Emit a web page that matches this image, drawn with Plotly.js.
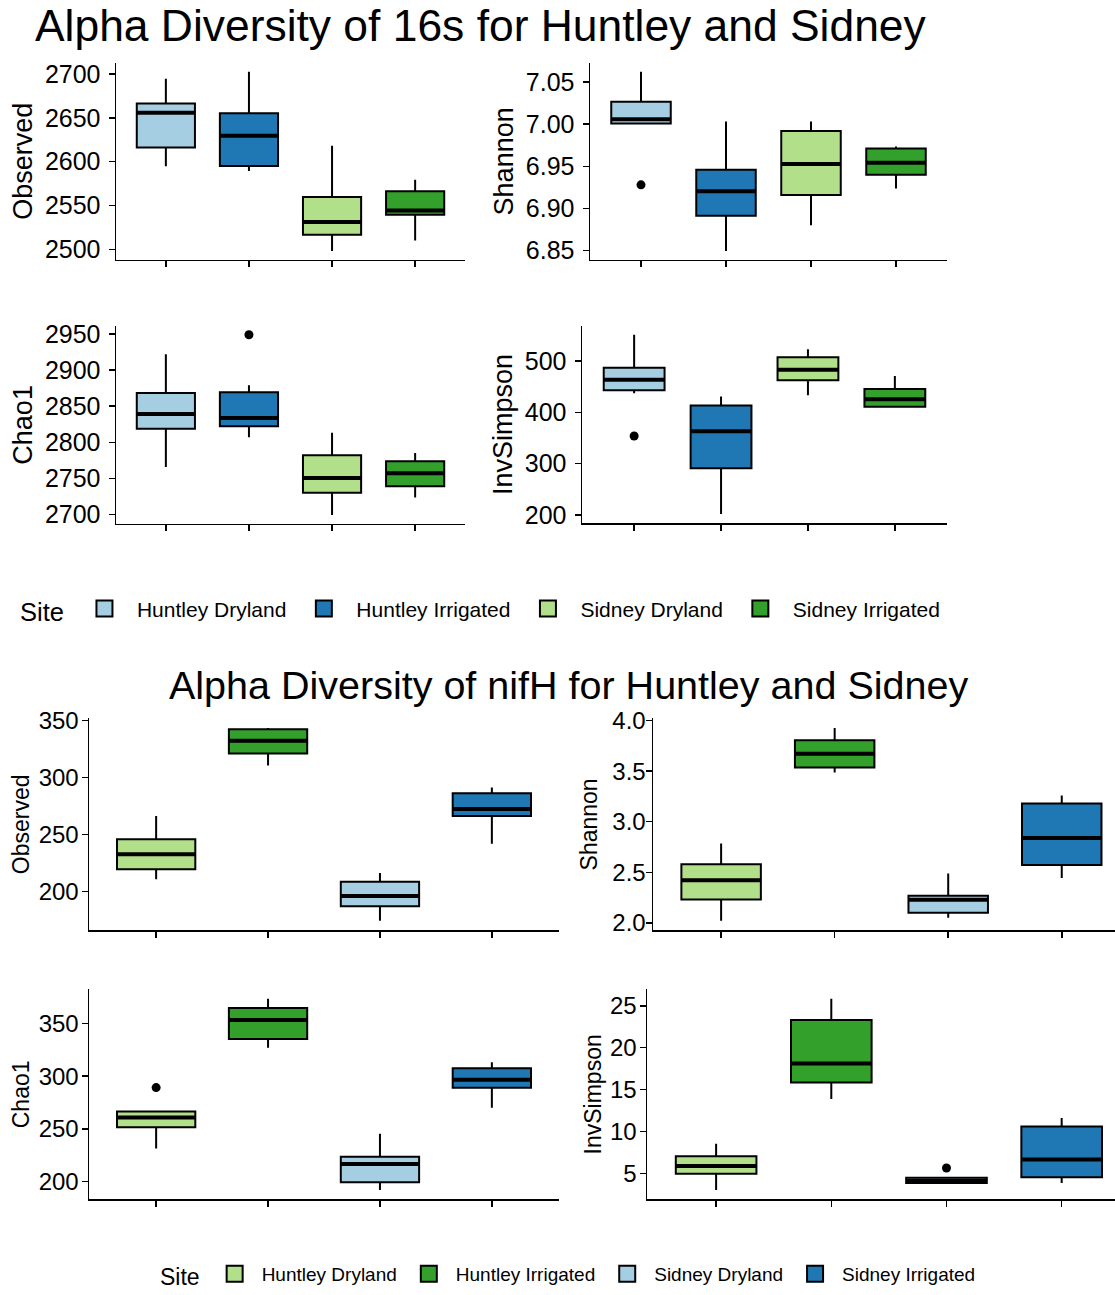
<!DOCTYPE html>
<html><head><meta charset="utf-8">
<script src="https://cdn.plot.ly/plotly-3.0.1.min.js"></script>
<style>html,body{margin:0;padding:0;background:#fff;width:1115px;height:1295px;overflow:hidden}#chart{width:1115px;height:1295px;overflow:hidden}</style>
</head><body><div id="chart"></div><script>
// ---------- data ----------
const sites = ['Huntley Dryland', 'Huntley Irrigated', 'Sidney Dryland', 'Sidney Irrigated'];
const colors16 = ['#A6CEE3', '#1F78B4', '#B2DF8A', '#33A02C'];
const colorsNif = ['#B2DF8A', '#33A02C', '#A6CEE3', '#1F78B4'];

// 16s
const obs16 = {lower: [2594.7, 2589.4, 2498.1, 2510.2], q1: [2616.3, 2595.1, 2516.7, 2539.4], median: [2655.7, 2629.5, 2531.1, 2544.3], q3: [2666.3, 2655.3, 2559.8, 2566.3], upper: [2694.7, 2702.7, 2618.2, 2579.5]};
const obs16Out = {site: [], value: []};
const sha16 = {lower: [7.0008, 6.8496, 6.880, 6.9236], q1: [7.0008, 6.8913, 6.9161, 6.940], median: [7.0059, 6.9205, 6.9528, 6.9543], q3: [7.0264, 6.946, 6.992, 6.971], upper: [7.0622, 7.0031, 7.003, 6.9736]};
const sha16Out = {site: ['Huntley Dryland'], value: [6.928]};
const chao16 = {lower: [2765.8, 2806.9, 2699.5, 2723.5], q1: [2818.8, 2822.0, 2730.4, 2739.2], median: [2839.0, 2833.5, 2750.7, 2757.1], q3: [2868.0, 2869.0, 2782.0, 2773.7], upper: [2921.5, 2878.7, 2813.3, 2785.2]};
const chao16Out = {site: ['Huntley Irrigated'], value: [2948.6]};
const inv16 = {lower: [437.4, 201.9, 433.5, 411.0], q1: [443.2, 291.0, 462.6, 411.0], median: [463.9, 363.2, 483.2, 425.8], q3: [487.1, 413.5, 507.7, 445.8], upper: [551.6, 431.0, 523.2, 471.0]};
const inv16Out = {site: ['Huntley Dryland'], value: [354.2]};

// nifH
const obsNif = {lower: [210.8, 310.6, 174.3, 242.0], q1: [219.6, 321.1, 187.2, 266.2], median: [232.7, 332.2, 196.2, 272.4], q3: [245.8, 342.4, 208.5, 286.1], upper: [266.2, 343.5, 216.3, 291.3]};
const obsNifOut = {site: [], value: []};
const shaNif = {lower: [2.02, 3.487, 2.05, 2.444], q1: [2.232, 3.536, 2.099, 2.573], median: [2.421, 3.672, 2.228, 2.838], q3: [2.58, 3.805, 2.268, 3.179], upper: [2.785, 3.927, 2.487, 3.258]};
const shaNifOut = {site: [], value: []};
const chaoNif = {lower: [231.5, 327.0, 192.2, 270.1], q1: [251.6, 335.2, 199.4, 289.0], median: [260.8, 353.2, 216.7, 296.5], q3: [266.5, 364.5, 223.6, 307.6], upper: [267.0, 373.3, 245.4, 313.2]};
const chaoNifOut = {site: ['Huntley Dryland'], value: [289.2]};
const invNif = {lower: [3.06, 13.89, 3.85, 3.9], q1: [5.0, 15.87, 3.9, 4.57], median: [5.91, 18.12, 4.15, 6.7], q3: [7.06, 23.3, 4.5, 10.61], upper: [8.56, 25.83, 4.55, 11.64]};
const invNifOut = {site: ['Sidney Dryland'], value: [5.67]};

// y tick labels
const ticksObs16 = [2500, 2550, 2600, 2650, 2700];
const ticksSha16 = [6.85, 6.90, 6.95, 7.00, 7.05];
const ticksChao16 = [2700, 2750, 2800, 2850, 2900, 2950];
const ticksInv16 = [200, 300, 400, 500];
const ticksObsNif = [200, 250, 300, 350];
const ticksShaNif = [2.0, 2.5, 3.0, 3.5, 4.0];
const ticksChaoNif = [200, 250, 300, 350];
const ticksInvNif = [5, 10, 15, 20, 25];

// ---------- layout helpers ----------
const W = 1115, H = 1295;
const FONT = 'Liberation Sans, Arial, Helvetica, sans-serif';
const px = (a, b) => [a / W, b / W];
const py = (top, bottom) => [1 - bottom / H, 1 - top / H];

const panels = [
  {d: obs16, out: obs16Out, col: colors16, title: 'Observed', ticks: ticksObs16, fmt: '', dx: px(116, 465), dy: py(63.3, 262.4), xmax: 4.6, top: true, leg: true, ls: 3, ts: 4},
  {d: sha16, out: sha16Out, col: colors16, title: 'Shannon', ticks: ticksSha16, fmt: '.2f', dx: px(590, 947), dy: py(63.3, 262.4), xmax: 4.6, top: true, ls: 3, ts: 4},
  {d: chao16, out: chao16Out, col: colors16, title: 'Chao1', ticks: ticksChao16, fmt: '', dx: px(116, 465), dy: py(328.8, 528.9), xmax: 4.6, top: true, ls: 3, ts: 4},
  {d: inv16, out: inv16Out, col: colors16, title: 'InvSimpson', ticks: ticksInv16, fmt: '', dx: px(582, 947), dy: py(328.8, 527.9), xmax: 4.6, top: true, ls: 3, ts: 4},
  {d: obsNif, out: obsNifOut, col: colorsNif, title: 'Observed', ticks: ticksObsNif, fmt: '', dx: px(89, 559), dy: py(725, 939.2), xmax: 4.6, top: false, leg: true, ls: -2, ts: 2},
  {d: shaNif, out: shaNifOut, col: colorsNif, title: 'Shannon', ticks: ticksShaNif, fmt: '.1f', dx: [653 / W, 1], dy: py(725, 939.2), xmax: 4.469, top: false, ls: -5, ts: 8},
  {d: chaoNif, out: chaoNifOut, col: colorsNif, title: 'Chao1', ticks: ticksChaoNif, fmt: '', dx: px(89, 559), dy: py(998.5, 1210.7), xmax: 4.6, top: false, ls: -2, ts: 2},
  {d: invNif, out: invNifOut, col: colorsNif, title: 'InvSimpson', ticks: ticksInvNif, fmt: '', dx: [647 / W, 1], dy: py(998.5, 1210.7), xmax: 4.463, top: false, ls: -2, ts: 2}
];

const traces = [];
const layout = {
  width: W, height: H,
  margin: {l: 0, r: 0, t: 0, b: 0, pad: 0},
  paper_bgcolor: '#fff', plot_bgcolor: '#fff',
  font: {family: FONT, color: '#000'},
  boxmode: 'overlay',
  showlegend: true,
  hovermode: false,
  annotations: [
    {text: 'Alpha Diversity of 16s for Huntley and Sidney', xref: 'paper', yref: 'paper', x: 33 / W, y: 1 - 26 / H, xanchor: 'left', yanchor: 'middle', showarrow: false, font: {size: 44.4, family: FONT, color: '#000'}},
    {text: 'Alpha Diversity of nifH for Huntley and Sidney', xref: 'paper', yref: 'paper', x: 568 / W, y: 1 - 691 / H, xanchor: 'center', yanchor: 'middle', showarrow: false, font: {size: 39.5, family: FONT, color: '#000'}}
  ],
  legend: {orientation: 'h', x: 18 / W, xanchor: 'left', y: 1 - 616 / H, yanchor: 'middle', bgcolor: 'rgba(0,0,0,0)', traceorder: 'normal', itemwidth: 55,
    title: {text: 'Site', side: 'left', font: {size: 25.5, family: FONT}}, font: {size: 21, family: FONT, color: '#000'}},
  legend2: {orientation: 'h', x: 158 / W, xanchor: 'left', y: 1 - 1287 / H, yanchor: 'middle', bgcolor: 'rgba(0,0,0,0)', traceorder: 'normal', itemwidth: 44,
    title: {text: 'Site', side: 'left', font: {size: 23, family: FONT}}, font: {size: 19, family: FONT, color: '#000'}}
};

panels.forEach((p, k) => {
  const s = k === 0 ? '' : String(k + 1);
  const xa = 'x' + s, ya = 'y' + s;
  const d = p.d;
  // boxes, one trace per site
  sites.forEach((site, i) => {
    traces.push({
      type: 'box', name: site, x: [i + 1],
      q1: [d.q1[i]], median: [d.median[i]], q3: [d.q3[i]],
      lowerfence: [d.lower[i]], upperfence: [d.upper[i]],
      width: 0.7, whiskerwidth: 0, boxpoints: false,
      fillcolor: p.col[i], line: {color: '#000', width: 2},
      xaxis: xa, yaxis: ya, legendgroup: (p.top ? 'a' : 'b') + site,
      showlegend: false, hoverinfo: 'skip'
    });
  });
  // legend keys (larger filled squares) for the first panel of each figure
  if (p.leg) {
    sites.forEach((site, i) => {
      traces.push({type: 'scatter', mode: 'markers', name: site, x: [null], y: [null],
        marker: {symbol: 'square', size: 16, color: p.col[i], line: {color: '#000', width: 2}},
        xaxis: xa, yaxis: ya, legendgroup: (p.top ? 'a' : 'b') + site,
        showlegend: true, legend: p.top ? 'legend' : 'legend2', hoverinfo: 'skip'});
    });
  }
  // thick median lines
  const mx = [], my = [];
  sites.forEach((site, i) => { mx.push(i + 1 - 0.35, i + 1 + 0.35, null); my.push(d.median[i], d.median[i], null); });
  traces.push({type: 'scatter', mode: 'lines', x: mx, y: my, line: {color: '#000', width: 4}, xaxis: xa, yaxis: ya, showlegend: false, hoverinfo: 'skip'});
  // outliers
  if (p.out.value.length) {
    traces.push({type: 'scatter', mode: 'markers', x: p.out.site.map(v => sites.indexOf(v) + 1), y: p.out.value,
      marker: {color: '#000', size: 9}, xaxis: xa, yaxis: ya, showlegend: false, hoverinfo: 'skip'});
  }
  // y range: data range expanded by 5%
  const all = d.lower.concat(d.upper, p.out.value);
  const mn = Math.min(...all), mxv = Math.max(...all), sp = mxv - mn;
  const tfs = p.top ? 25 : 24, ttfs = p.top ? 27 : 23;
  layout['xaxis' + s] = {domain: p.dx, anchor: ya, range: [0.4, p.xmax], tickvals: [1, 2, 3, 4], showticklabels: false,
    ticks: 'outside', ticklen: 6, tickwidth: 1.5, tickcolor: '#000', showline: true, linecolor: '#000', linewidth: 1.5,
    showgrid: false, zeroline: false, fixedrange: true};
  layout['yaxis' + s] = {domain: p.dy, anchor: xa, range: [mn - 0.05 * sp, mxv + 0.05 * sp], tickvals: p.ticks, tickformat: p.fmt,
    ticks: 'outside', ticklen: 6, tickwidth: 1.5, tickcolor: '#000', showline: true, linecolor: '#000', linewidth: 1.5,
    showgrid: false, zeroline: false, fixedrange: true, ticklabelstandoff: p.ls,
    tickfont: {size: tfs, family: FONT, color: '#000'},
    title: {text: p.title, font: {size: ttfs, family: FONT, color: '#000'}, standoff: p.ts}};
});

Plotly.newPlot('chart', traces, layout, {displayModeBar: false, staticPlot: true});
</script></body></html>
